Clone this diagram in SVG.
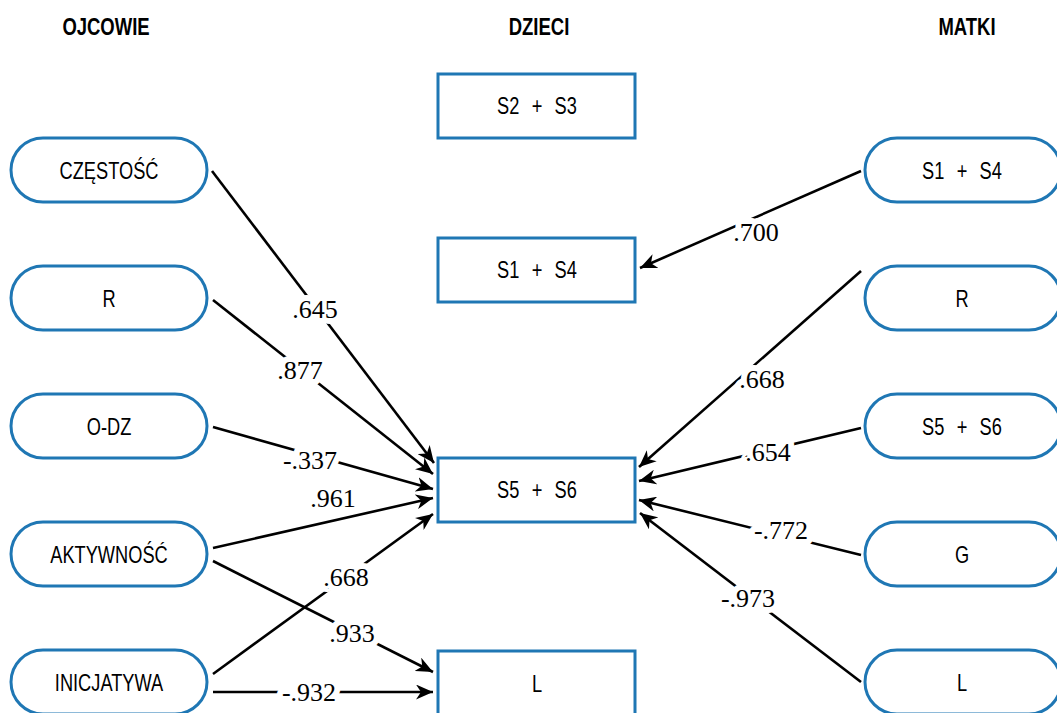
<svg xmlns="http://www.w3.org/2000/svg" width="1057" height="713" viewBox="0 0 1057 713">
<style>
.hdr{font-family:"Liberation Sans",Arial,sans-serif;font-weight:bold;font-size:24px;fill:#000;text-anchor:middle}
.nt{font-family:"Liberation Sans",Arial,sans-serif;font-size:24px;fill:#000;text-anchor:middle;word-spacing:9.5px}
.pill,.box{fill:#fff;stroke:#1f77b4;stroke-width:3}
.c{fill:none;stroke:#000;stroke-width:2.6}
.lbl{font-family:"Liberation Serif","DejaVu Serif",serif;font-size:26px;fill:#000;text-anchor:middle;stroke:#fff;stroke-width:12;stroke-linejoin:round;paint-order:stroke}
</style>
<defs>
<marker id="ah" viewBox="0 0 17 15" refX="17" refY="7.5" markerWidth="17" markerHeight="15" markerUnits="userSpaceOnUse" orient="auto">
<path d="M0,0 L17,7.5 L0,15 L5,7.5 z" fill="#000"/>
</marker>
</defs>
<rect width="1057" height="713" fill="#fff"/>
<g id="headers">
<text class="hdr" transform="translate(106,35) scale(0.77,1)">OJCOWIE</text>
<text class="hdr" transform="translate(539,35) scale(0.77,1)">DZIECI</text>
<text class="hdr" transform="translate(967,35) scale(0.77,1)">MATKI</text>
</g>
<g id="connectors">
<line class="c" x1="212" y1="171" x2="434" y2="463" marker-end="url(#ah)"/>
<line class="c" x1="213" y1="300" x2="433" y2="474" marker-end="url(#ah)"/>
<line class="c" x1="213" y1="427" x2="433" y2="489" marker-end="url(#ah)"/>
<line class="c" x1="213" y1="548" x2="433" y2="498" marker-end="url(#ah)"/>
<line class="c" x1="213" y1="674" x2="433" y2="514" marker-end="url(#ah)"/>
<line class="c" x1="213" y1="561" x2="433" y2="672" marker-end="url(#ah)"/>
<line class="c" x1="213" y1="692" x2="433" y2="692" marker-end="url(#ah)"/>
<line class="c" x1="861" y1="171" x2="640" y2="268" marker-end="url(#ah)"/>
<line class="c" x1="861" y1="271" x2="639" y2="467" marker-end="url(#ah)"/>
<line class="c" x1="861" y1="428" x2="639" y2="481" marker-end="url(#ah)"/>
<line class="c" x1="861" y1="555" x2="639" y2="500" marker-end="url(#ah)"/>
<line class="c" x1="861" y1="682" x2="640" y2="513" marker-end="url(#ah)"/>
<text class="lbl" x="315" y="318">.645</text>
<text class="lbl" x="300" y="379">.877</text>
<text class="lbl" x="310" y="469">-.337</text>
<text class="lbl" x="333" y="507">.961</text>
<text class="lbl" x="346" y="586">.668</text>
<text class="lbl" x="352" y="642">.933</text>
<text class="lbl" x="309" y="701">-.932</text>
<text class="lbl" x="756" y="241">.700</text>
<text class="lbl" x="762" y="388">.668</text>
<text class="lbl" x="768" y="461">.654</text>
<text class="lbl" x="781" y="539">-.772</text>
<text class="lbl" x="748" y="607">-.973</text>
</g>
<g id="f-czestosc"><rect class="pill" x="11" y="138" width="196" height="64" rx="32"/><text class="nt" transform="translate(109,179) scale(0.76,1)">CZĘSTOŚĆ</text></g>
<g id="f-r"><rect class="pill" x="11" y="266" width="196" height="64" rx="32"/><text class="nt" transform="translate(109,307) scale(0.76,1)">R</text></g>
<g id="f-odz"><rect class="pill" x="11" y="394" width="196" height="64" rx="32"/><text class="nt" transform="translate(109,435) scale(0.76,1)">O-DZ</text></g>
<g id="f-aktywnosc"><rect class="pill" x="11" y="522" width="196" height="64" rx="32"/><text class="nt" transform="translate(109,563) scale(0.76,1)">AKTYWNOŚĆ</text></g>
<g id="f-inicjatywa"><rect class="pill" x="11" y="650" width="196" height="64" rx="32"/><text class="nt" transform="translate(109,691) scale(0.76,1)">INICJATYWA</text></g>
<g id="d-s2s3"><rect class="box" x="438" y="74" width="197" height="64"/><text class="nt" transform="translate(537,114) scale(0.76,1)">S2 + S3</text></g>
<g id="d-s1s4"><rect class="box" x="438" y="238" width="197" height="64"/><text class="nt" transform="translate(537,278) scale(0.76,1)">S1 + S4</text></g>
<g id="d-s5s6"><rect class="box" x="438" y="458" width="197" height="64"/><text class="nt" transform="translate(537,498) scale(0.76,1)">S5 + S6</text></g>
<g id="d-l"><rect class="box" x="438" y="651" width="197" height="64"/><text class="nt" transform="translate(537,692) scale(0.76,1)">L</text></g>
<g id="m-s1s4"><rect class="pill" x="865" y="138" width="196" height="64" rx="32"/><text class="nt" transform="translate(962,179) scale(0.76,1)">S1 + S4</text></g>
<g id="m-r"><rect class="pill" x="865" y="266" width="196" height="64" rx="32"/><text class="nt" transform="translate(962,307) scale(0.76,1)">R</text></g>
<g id="m-s5s6"><rect class="pill" x="865" y="394" width="196" height="64" rx="32"/><text class="nt" transform="translate(962,435) scale(0.76,1)">S5 + S6</text></g>
<g id="m-g"><rect class="pill" x="865" y="522" width="196" height="64" rx="32"/><text class="nt" transform="translate(962,563) scale(0.76,1)">G</text></g>
<g id="m-l"><rect class="pill" x="865" y="650" width="196" height="64" rx="32"/><text class="nt" transform="translate(962,691) scale(0.76,1)">L</text></g>
</svg>
